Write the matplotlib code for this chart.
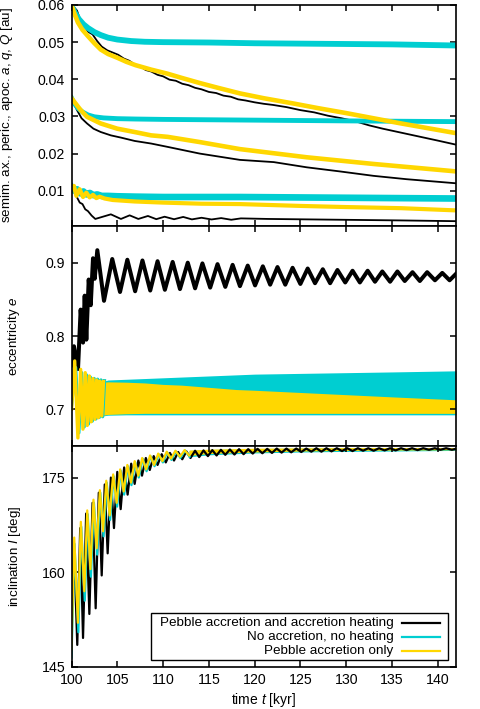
import matplotlib
matplotlib.use("Agg")
import matplotlib.pyplot as plt
from matplotlib.patches import Rectangle

plt.rcParams['font.family'] = ['Liberation Sans', 'DejaVu Sans']
plt.rcParams['mathtext.fontset'] = 'custom'
plt.rcParams['mathtext.it'] = 'Liberation Sans:italic'
plt.rcParams['mathtext.rm'] = 'Liberation Sans'

BLK, CYN, YEL = "black", "#00CED1", "#FFD700"
labels = ["Pebble accretion and accretion heating",
          "No accretion, no heating",
          "Pebble accretion only"]

# ---------------- top panel: a, q, Q [au] ----------------
# black (accretion + heating)
kQ_t = [100.2, 100.6, 101.0, 101.4, 101.8, 102.3, 102.8, 103.3, 103.9, 104.5, 105.1, 105.7,
        106.3, 106.9, 107.5, 108.1, 108.7, 109.4, 110.0, 110.7, 111.4, 112.1, 112.8, 113.5,
        114.2, 115.0, 115.8, 116.6, 117.4, 118.2, 119.0, 120.0, 121.0, 122.0, 123.5, 125.0,
        126.5, 128.0, 129.5, 131.0, 132.5, 134.0, 135.5, 137.0, 138.5, 140.0, 142.0]
kQ = [0.0596, 0.0585, 0.0556, 0.0545, 0.0528, 0.0521, 0.0503, 0.0488, 0.0478, 0.0472, 0.0466,
      0.0456, 0.0450, 0.0440, 0.0435, 0.0425, 0.0421, 0.0412, 0.0408, 0.0399, 0.0396, 0.0388,
      0.0384, 0.0377, 0.0373, 0.0366, 0.0363, 0.0356, 0.0353, 0.0346, 0.0343, 0.0338, 0.0334,
      0.0331, 0.0325, 0.0317, 0.0311, 0.0302, 0.0295, 0.0287, 0.0276, 0.0267, 0.0259, 0.0251,
      0.0243, 0.0235, 0.0224]
ka_t = [100.0, 100.6, 101.1, 101.7, 102.4, 103.2, 104.3, 105.4, 106.9, 108.7, 110.5, 114.0,
        118.4, 122.1, 125.7, 129.3, 133.0, 136.6, 142.0]
ka = [0.0349, 0.0317, 0.0295, 0.0281, 0.0267, 0.0258, 0.0249, 0.0243, 0.0234, 0.0227, 0.0218,
      0.0200, 0.0183, 0.0177, 0.0163, 0.0152, 0.0140, 0.0131, 0.0120]
kq_t = [100.0, 100.3, 100.5, 100.9, 101.2, 101.5, 101.8, 102.2, 102.6, 104.3, 105.4, 106.35,
        107.3, 108.35, 109.26, 110.17, 111.2, 112.2, 113.15, 114.2, 115.3, 116.35, 117.45,
        118.5, 121.45, 128.7, 136.0, 142.0]
kq = [0.0105, 0.0098, 0.0087, 0.0068, 0.0064, 0.0050, 0.0045, 0.0033, 0.0024, 0.00364, 0.0024,
      0.00337, 0.0024, 0.0032, 0.00234, 0.0030, 0.00232, 0.00294, 0.00228, 0.00272, 0.00226,
      0.00263, 0.00218, 0.00255, 0.0024, 0.0022, 0.0020, 0.0018]
# cyan (no accretion, no heating)
cQ_t = [100.0, 100.4, 100.8, 101.3, 101.8, 102.5, 103.2, 104.0, 105.0, 106.5, 108.0, 110.0,
        115.0, 120.0, 125.0, 130.0, 135.0, 142.0]
cQ = [0.0598, 0.0578, 0.0562, 0.0548, 0.0538, 0.0527, 0.0519, 0.0512, 0.0507, 0.0503, 0.0501,
      0.0500, 0.0499, 0.0497, 0.0496, 0.0495, 0.0494, 0.0491]
ca_t = [100.0, 100.3, 100.7, 101.2, 101.8, 102.5, 103.5, 105.0, 107.0, 110.0, 115.0, 120.0,
        130.0, 142.0]
ca = [0.0350, 0.0335, 0.0322, 0.0312, 0.0304, 0.0299, 0.0296, 0.0294, 0.0293, 0.0292, 0.0291,
      0.0290, 0.0288, 0.0286]
cq_t = [100.0, 100.3, 100.6, 100.95, 101.3, 101.65, 102.0, 102.4, 102.8, 103.3, 104.0, 105.0,
        107.0, 110.0, 118.4, 130.0, 142.0]
cq = [0.0110, 0.0100, 0.0104, 0.0093, 0.0098, 0.0090, 0.0094, 0.0088, 0.0090, 0.0086, 0.0086,
      0.0085, 0.0084, 0.0083, 0.0083, 0.0081, 0.0079]
# yellow (pebble accretion only)
yQ_t = [100.0, 100.3, 100.7, 101.2, 101.8, 102.5, 103.2, 104.0, 105.0, 106.0, 107.0, 108.7,
        110.5, 112.0, 114.0, 116.0, 118.4, 121.0, 124.2, 127.0, 130.0, 133.0, 135.8, 139.0, 142.0]
yQ = [0.0600, 0.0578, 0.0553, 0.0533, 0.0516, 0.0497, 0.0480, 0.0468, 0.0458, 0.0447, 0.0438,
      0.0426, 0.0415, 0.0404, 0.0390, 0.0377, 0.0362, 0.0349, 0.0335, 0.0322, 0.0309, 0.0295,
      0.0282, 0.0268, 0.0255]
ya_t = [100.0, 101.0, 101.7, 103.2, 105.0, 106.9, 108.7, 110.5, 114.0, 118.4, 125.7, 133.0, 142.0]
ya = [0.0349, 0.0317, 0.0299, 0.0281, 0.0267, 0.0258, 0.0249, 0.0245, 0.0231, 0.0212, 0.0190,
      0.0172, 0.0152]
yq_t = [100.0, 100.27, 100.53, 100.89, 101.26, 101.62, 101.98, 102.35, 102.71, 103.07, 103.62,
        104.5, 106.9, 110.0, 114.2, 118.4, 125.1, 130.0, 136.0, 142.0]
yq = [0.0108, 0.0113, 0.0086, 0.0104, 0.0083, 0.0095, 0.0082, 0.0089, 0.0080, 0.0084, 0.0079,
      0.0075, 0.0071, 0.0068, 0.0065, 0.0064, 0.0059, 0.0056, 0.0053, 0.0047]

# ---------------- middle panel: eccentricity ----------------
ke_t = [100.0, 100.27, 100.71, 101.0, 101.26, 101.44, 101.62, 101.88, 102.1, 102.35, 102.53,
        102.82, 103.55, 104.45, 105.3, 106.1, 106.95, 107.75, 108.6, 109.4, 110.2, 111.05,
        111.85, 112.7, 113.5, 114.3, 115.15, 115.95, 116.8, 117.6, 118.4, 119.25, 120.05,
        120.9, 121.7, 122.5, 123.35, 124.15, 125.0, 125.8, 126.6, 127.45, 128.25, 129.05,
        129.9, 130.7, 131.5, 132.35, 133.15, 133.95, 134.8, 135.6, 136.4, 137.25, 138.05,
        138.85, 139.7, 140.5, 141.3, 142.1]
ke = [0.760, 0.786, 0.755, 0.836, 0.791, 0.855, 0.795, 0.877, 0.842, 0.906, 0.878, 0.917,
      0.848, 0.905, 0.860, 0.904, 0.861, 0.903, 0.862, 0.902, 0.863, 0.901, 0.864, 0.900,
      0.865, 0.899, 0.866, 0.898, 0.867, 0.897, 0.868, 0.896, 0.869, 0.895, 0.870, 0.894,
      0.870, 0.893, 0.871, 0.892, 0.872, 0.891, 0.872, 0.890, 0.873, 0.889, 0.873, 0.889,
      0.874, 0.888, 0.874, 0.888, 0.875, 0.887, 0.875, 0.887, 0.876, 0.886, 0.876, 0.886]
ce_t = [100.0, 100.45, 100.8, 101.1, 101.38, 101.62, 101.85, 102.05, 102.27, 102.47, 102.67,
        102.85, 103.03, 103.22, 103.4, 103.6]
ce = [0.705, 0.757, 0.668, 0.750, 0.676, 0.747, 0.680, 0.744, 0.684, 0.742, 0.687, 0.741,
      0.689, 0.740, 0.690, 0.739]
ye_t = [100.0, 100.35, 100.7, 101.0, 101.25, 101.5, 101.72, 101.95, 102.15, 102.35, 102.55,
        102.75, 102.93, 103.1, 103.3, 103.5]
ye = [0.700, 0.766, 0.661, 0.7545, 0.673, 0.750, 0.678, 0.7455, 0.683, 0.742, 0.6865, 0.740,
      0.6886, 0.7386, 0.691, 0.738]
band_t = [103.4, 104, 106, 108, 110, 112, 114, 116, 118, 120, 125, 130, 135, 142]
ce_hi = [0.738, 0.740, 0.741, 0.742, 0.743, 0.744, 0.745, 0.746, 0.747, 0.748, 0.749, 0.750,
         0.751, 0.7525]
ce_lo = [0.691, 0.692, 0.6925, 0.6925, 0.6925, 0.6925, 0.6925, 0.6925, 0.6925, 0.6925, 0.6925,
         0.6925, 0.6925, 0.6925]
ye_hi = [0.737, 0.7375, 0.737, 0.736, 0.734, 0.733, 0.731, 0.729, 0.727, 0.726, 0.723, 0.720,
         0.717, 0.713]
ye_lo = [0.692, 0.693, 0.694, 0.6945, 0.6945, 0.6945, 0.6945, 0.6945, 0.6945, 0.6945, 0.6945,
         0.6945, 0.6945, 0.6945]

# ---------------- bottom panel: inclination ----------------
ki_t = [100.0, 100.3, 100.63, 100.95, 101.26, 101.6, 101.95, 102.3, 102.64, 102.98, 103.3,
        103.63, 103.95, 104.3, 104.64, 105.0, 105.37, 105.75, 106.13, 106.52, 106.9, 107.3,
        107.7, 108.12, 108.55, 108.98, 109.4, 109.85, 110.3, 110.75, 111.2, 111.65, 112.1,
        112.55, 113.0, 113.5, 113.95, 114.42, 114.9, 115.38, 115.85, 116.32, 116.8, 117.3,
        117.8, 118.3, 118.8, 119.3, 119.8, 120.32, 120.85, 121.38, 121.9, 122.42, 122.95,
        123.48, 124.0, 124.55, 125.1, 125.65, 126.2, 126.75, 127.3, 127.85, 128.4, 128.98,
        129.55, 130.12, 130.7, 131.28, 131.85, 132.42, 133.0, 133.6, 134.2, 134.8, 135.4,
        136.0, 136.6, 137.2, 137.8, 138.42, 139.05, 139.68, 140.3, 140.92, 141.55, 142.1]
ki = [152.0, 163.5, 148.5, 167.0, 149.6, 169.3, 153.4, 171.0, 154.3, 172.6, 159.5, 173.9,
      163.0, 175.0, 167.0, 175.9, 170.0, 176.6, 172.3, 177.2, 174.0, 177.7, 175.3, 178.1,
      176.2, 178.4, 177.0, 178.7, 177.4, 178.9, 177.7, 179.05, 177.9, 179.15, 178.1, 179.25,
      178.25, 179.3, 178.4, 179.35, 178.5, 179.4, 178.6, 179.45, 178.65, 179.5, 178.7, 179.5,
      178.8, 179.55, 178.85, 179.55, 178.9, 179.6, 178.95, 179.6, 179.0, 179.6, 179.05, 179.6,
      179.1, 179.65, 179.1, 179.65, 179.15, 179.65, 179.2, 179.65, 179.2, 179.65, 179.25,
      179.65, 179.25, 179.65, 179.3, 179.65, 179.3, 179.65, 179.35, 179.65, 179.35, 179.65,
      179.4, 179.65, 179.4, 179.65, 179.4, 179.6]
ci_t = [100.0, 100.33, 100.75, 101.07, 101.45, 101.77, 102.12, 102.45, 102.8, 103.15, 103.5,
        103.85, 104.22, 104.6, 104.98, 105.37, 105.75, 106.15, 106.55, 106.95, 107.35, 107.77,
        108.2, 108.63, 109.07, 109.52, 109.98, 110.45, 110.92, 111.4, 111.9, 112.4, 112.9]
ci = [146.5, 164.5, 150.5, 167.2, 155.5, 169.2, 159.3, 171.0, 162.8, 172.6, 165.7, 174.2,
      168.3, 175.2, 170.4, 176.1, 172.3, 176.8, 173.8, 177.45, 175.0, 178.0, 176.0, 178.4,
      176.8, 178.7, 177.4, 179.0, 177.8, 179.15, 178.1, 179.3, 178.3]
yi_t = [100.0, 100.3, 100.7, 101.02, 101.4, 101.72, 102.07, 102.4, 102.75, 103.1, 103.45,
        103.8, 104.17, 104.55, 104.93, 105.32, 105.7, 106.1, 106.5, 106.9, 107.3, 107.72,
        108.15, 108.58, 109.02, 109.47, 109.93, 110.4, 110.87, 111.35, 111.85, 112.35, 112.85]
yi = [147.8, 165.5, 152.0, 168.0, 157.0, 169.8, 160.5, 171.5, 163.8, 173.0, 166.5, 174.5,
      169.0, 175.5, 171.0, 176.3, 172.8, 177.0, 174.2, 177.6, 175.3, 178.1, 176.3, 178.5,
      177.0, 178.8, 177.6, 179.1, 178.0, 179.25, 178.3, 179.35, 178.5]
iband_t = [112.85, 115, 120, 125, 130, 135, 142]
ci_lo = [178.3, 178.6, 178.9, 179.05, 179.15, 179.2, 179.3]
ci_hi = [179.3, 179.45, 179.6, 179.65, 179.7, 179.7, 179.7]
yi_lo = [178.5, 178.8, 179.05, 179.2, 179.3, 179.35, 179.4]
yi_hi = [179.35, 179.5, 179.65, 179.7, 179.75, 179.75, 179.75]

xticks = [100, 105, 110, 115, 120, 125, 130, 135, 140]

fig = plt.figure(figsize=(4.8, 7.09), dpi=100)
L, W = 71.5 / 480, 384.5 / 480
ax1 = fig.add_axes([L, 1 - 226 / 709, W, 221 / 709])
ax2 = fig.add_axes([L, 1 - 446 / 709, W, 220 / 709])
ax3 = fig.add_axes([L, 1 - 667 / 709, W, 221 / 709])

# top
for t, v in [(kQ_t, kQ), (ka_t, ka), (kq_t, kq)]:
    ax1.plot(t, v, color=BLK, lw=1.3)
ax1.plot(cQ_t, cQ, color=CYN, lw=4.2)
ax1.plot(ca_t, ca, color=CYN, lw=3.5)
ax1.plot(cq_t, cq, color=CYN, lw=4.8)
ax1.plot(yQ_t, yQ, color=YEL, lw=3.3)
ax1.plot(ya_t, ya, color=YEL, lw=3.3)
ax1.plot(yq_t, yq, color=YEL, lw=3.0)
ax1.set_ylim(0.0005, 0.06)
ax1.set_yticks([0.01, 0.02, 0.03, 0.04, 0.05, 0.06])
ax1.set_yticklabels(["0.01", "0.02", "0.03", "0.04", "0.05", "0.06"])
ax1.set_ylabel(r"semim. ax., peric., apoc. $a$, $q$, $Q$ [au]")
ax1.yaxis.set_label_coords(-0.146, 0.5)

# middle
ax2.plot(ke_t, ke, color=BLK, lw=2.9)
ax2.plot(ce_t, ce, color=CYN, lw=2.4)
ax2.fill_between(band_t, ce_lo, ce_hi, color=CYN, lw=0)
ax2.plot(ye_t, ye, color=YEL, lw=2.4)
ax2.fill_between(band_t, ye_lo, ye_hi, color=YEL, lw=0)
ax2.set_ylim(0.65, 0.95)
ax2.set_yticks([0.7, 0.8, 0.9])
ax2.set_yticklabels(["0.7", "0.8", "0.9"])
ax2.set_ylabel(r"eccentricity $e$")
ax2.yaxis.set_label_coords(-0.128, 0.5)

# bottom
ax3.plot(ki_t, ki, color=BLK, lw=1.6)
ax3.plot(ci_t, ci, color=CYN, lw=1.6)
ax3.fill_between(iband_t, ci_lo, ci_hi, color=CYN, lw=0)
ax3.plot(yi_t, yi, color=YEL, lw=1.6)
ax3.fill_between(iband_t, yi_lo, yi_hi, color=YEL, lw=0)
ax3.set_ylim(145, 180)
ax3.set_yticks([145, 160, 175])
ax3.set_ylabel(r"inclination $I$ [deg]")
ax3.yaxis.set_label_coords(-0.126, 0.5)
ax3.set_xlabel(r"time $t$ [kyr]", labelpad=3)

for ax in (ax1, ax2, ax3):
    ax.set_xlim(100, 142)
    ax.set_xticks(xticks)
    ax.tick_params(direction="in", top=True, right=True, length=4, width=1.1,
                   labelsize=10.2, pad=4.5)
    for s in ax.spines.values():
        s.set_linewidth(1.2)
    ax.yaxis.label.set_size(9.6)
ax1.tick_params(labelbottom=False)
ax2.tick_params(labelbottom=False)
ax3.xaxis.label.set_size(10)

# legend (gnuplot style: right-justified text, sample on the right)
ax3.add_patch(Rectangle((0.207, 0.030), 0.772, 0.216, transform=ax3.transAxes,
                        fill=False, lw=1.0, ec="black", zorder=5))
rows_y = [0.199, 0.137, 0.074]
for lab, col, yy in zip(labels, [BLK, CYN, YEL], rows_y):
    ax3.text(0.837, yy, lab, transform=ax3.transAxes, ha="right", va="center",
             fontsize=9.7, zorder=6)
    ax3.plot([0.86, 0.958], [yy, yy], transform=ax3.transAxes, color=col, lw=1.6,
             zorder=6)

fig.savefig("out.png", dpi=100)
